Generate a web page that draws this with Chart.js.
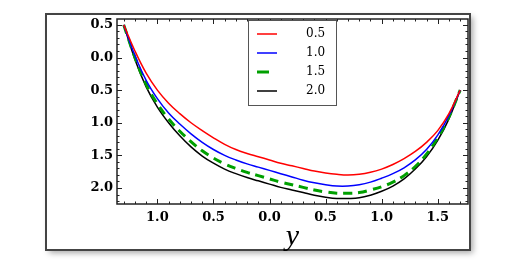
<!DOCTYPE html>
<html>
<head>
<meta charset="utf-8">
<script src="https://cdn.jsdelivr.net/npm/chart.js@4.4.1/dist/chart.umd.min.js"></script>
<style>
    body { margin: 0; background: #fff; }
</style>
</head>
<body>
<canvas id="ourChart" width="520" height="269"></canvas>
<script>
// values
const xValues = [-1.3, -1.2, -1.1, -1.0, -0.9, -0.8, -0.7, -0.6, -0.5, -0.4, -0.3, -0.2, -0.1, 0.0,
    0.1, 0.2, 0.3, 0.4, 0.5, 0.6, 0.7, 0.8, 0.9, 1.0, 1.1, 1.2, 1.3, 1.4, 1.5, 1.6, 1.7];

const curve05 = [0.50, 0.10, -0.24, -0.50, -0.70, -0.86, -1.00, -1.12, -1.23, -1.33, -1.41, -1.47, -1.52, -1.57,
    -1.62, -1.66, -1.70, -1.74, -1.77, -1.79, -1.80, -1.79, -1.76, -1.71, -1.64, -1.55, -1.44, -1.30, -1.12, -0.86, -0.50];
const curve10 = [0.50, 0.03, -0.35, -0.63, -0.85, -1.02, -1.17, -1.30, -1.41, -1.50, -1.57, -1.63, -1.68, -1.73,
    -1.78, -1.83, -1.88, -1.92, -1.95, -1.97, -1.97, -1.95, -1.91, -1.85, -1.78, -1.69, -1.57, -1.41, -1.19, -0.89, -0.50];
const curve15 = [0.50, 0.00, -0.41, -0.71, -0.94, -1.13, -1.29, -1.43, -1.54, -1.63, -1.70, -1.76, -1.81, -1.86,
    -1.91, -1.95, -1.99, -2.03, -2.06, -2.08, -2.08, -2.07, -2.03, -1.98, -1.91, -1.81, -1.67, -1.48, -1.23, -0.91, -0.50];
const curve20 = [0.50, -0.03, -0.45, -0.76, -1.00, -1.20, -1.37, -1.51, -1.62, -1.71, -1.78, -1.84, -1.89, -1.94,
    -1.99, -2.03, -2.07, -2.11, -2.14, -2.16, -2.16, -2.15, -2.11, -2.05, -1.97, -1.86, -1.71, -1.52, -1.27, -0.94, -0.50];

const seriesLabels = ['0.5', '1.0', '1.5', '2.0'];

const xTicks = [-1.0, -0.5, 0.0, 0.5, 1.0, 1.5];
const xTickLabels = ['1.0', '0.5', '0.0', '0.5', '1.0', '1.5'];
const yTicks = [0.5, 0.0, -0.5, -1.0, -1.5, -2.0];
const yTickLabels = ['0.5', '0.0', '0.5', '1.0', '1.5', '2.0'];

const serif = "'Liberation Serif', 'Times New Roman', serif";
const wideSerif = "'DejaVu Serif', serif";

function points(ys) {
    return xValues.map((x, i) => ({x: x, y: ys[i]}));
}

// white card with shadow behind the whole figure
const cardPlugin = {
    id: 'card',
    beforeDraw(chart) {
        const ctx = chart.ctx;
        ctx.save();
        ctx.shadowColor = 'rgba(0,0,0,0.35)';
        ctx.shadowBlur = 6;
        ctx.shadowOffsetX = 3;
        ctx.shadowOffsetY = 3;
        ctx.fillStyle = '#fff';
        ctx.fillRect(46, 14, 424, 236);
        ctx.restore();
        ctx.save();
        ctx.strokeStyle = '#444';
        ctx.lineWidth = 2;
        ctx.strokeRect(46, 14, 424, 236);
        ctx.restore();
    }
};

// Mathematica-like frame with inward ticks on all sides
const framePlugin = {
    id: 'frame',
    afterDatasetsDraw(chart) {
        const ctx = chart.ctx;
        const a = chart.chartArea;
        const xs = chart.scales.x, ys = chart.scales.y;
        ctx.save();
        ctx.strokeStyle = '#222';
        ctx.lineWidth = 1;
        ctx.beginPath();
        for (let k = -13; k <= 17; k++) {
            const px = Math.round(xs.getPixelForValue(k / 10)) + 0.5;
            const len = (k % 5 === 0) ? 5 : 2.5;
            ctx.moveTo(px, a.bottom); ctx.lineTo(px, a.bottom - len);
            ctx.moveTo(px, a.top); ctx.lineTo(px, a.top + len);
        }
        for (let k = -22; k <= 5; k++) {
            const py = Math.round(ys.getPixelForValue(k / 10)) + 0.5;
            const len = (k % 5 === 0) ? 5 : 2.5;
            ctx.moveTo(a.left, py); ctx.lineTo(a.left + len, py);
            ctx.moveTo(a.right, py); ctx.lineTo(a.right - len, py);
        }
        ctx.stroke();
        ctx.lineWidth = 1.5;
        ctx.strokeRect(a.left, a.top, a.right - a.left, a.bottom - a.top);
        ctx.restore();
    }
};

// boxed legend inside the plot
const boxLegend = {
    id: 'boxLegend',
    afterDraw(chart, args, opts) {
        const ctx = chart.ctx;
        const left = opts.left, top = opts.top;
        ctx.save();
        ctx.fillStyle = '#fff';
        ctx.fillRect(left, top, opts.width, opts.height);
        ctx.strokeStyle = '#555';
        ctx.lineWidth = 1;
        ctx.strokeRect(left + 0.5, top + 0.5, opts.width, opts.height);
        chart.data.datasets.forEach((ds, i) => {
            const y = top + 14 + i * 19;
            ctx.beginPath();
            ctx.strokeStyle = ds.borderColor;
            ctx.lineWidth = ds.borderWidth;
            ctx.setLineDash(ds.legendDash || []);
            ctx.moveTo(left + 9, y);
            ctx.lineTo(left + 29, y);
            ctx.stroke();
            ctx.setLineDash([]);
            ctx.fillStyle = '#000';
            ctx.font = '12px ' + wideSerif;
            ctx.textAlign = 'left';
            ctx.textBaseline = 'middle';
            ctx.fillText(ds.label, left + 58, y);
        });
        ctx.restore();
    }
};

let ourCanvas = document.getElementById('ourChart');

const chartElement = new Chart(ourCanvas, {
    type: 'line',
    data: {
        datasets: [
            {
                label: seriesLabels[0],
                data: points(curve05),
                borderColor: '#ff0000',
                borderWidth: 1.5
            },
            {
                label: seriesLabels[1],
                data: points(curve10),
                borderColor: '#0000ff',
                borderWidth: 1.5
            },
            {
                label: seriesLabels[2],
                data: points(curve15),
                borderColor: '#00a000',
                borderWidth: 3,
                borderDash: [9, 6],
                legendDash: [12, 30]
            },
            {
                label: seriesLabels[3],
                data: points(curve20),
                borderColor: '#000000',
                borderWidth: 1.5
            }
        ]
    },
    options: {
        responsive: false,
        animation: false,
        devicePixelRatio: 1,
        layout: {
            padding: {left: 47, right: 52, top: 19, bottom: 10}
        },
        elements: {
            point: {radius: 0},
            line: {tension: 0.4, fill: false}
        },
        plugins: {
            legend: {display: false},
            tooltip: {enabled: false},
            boxLegend: {left: 248, top: 20, width: 88, height: 85}
        },
        scales: {
            x: {
                type: 'linear',
                min: -1.36,
                max: 1.77,
                grid: {display: false, drawTicks: false},
                border: {display: false},
                afterFit: (scale) => { scale.height = 55; },
                afterBuildTicks: (scale) => { scale.ticks = xTicks.map(v => ({value: v})); },
                ticks: {
                    autoSkip: false,
                    maxRotation: 0,
                    padding: 6,
                    color: '#000',
                    font: {family: wideSerif, size: 13, weight: 'bold'},
                    callback: (val, i) => xTickLabels[i]
                },
                title: {
                    display: true,
                    text: 'y',
                    color: '#000',
                    font: {family: serif, size: 30, style: 'italic'},
                    padding: {top: 0, bottom: 4}
                }
            },
            y: {
                type: 'linear',
                min: -2.245,
                max: 0.59,
                grid: {display: false, drawTicks: false},
                border: {display: false},
                afterFit: (scale) => { scale.width = 70; },
                afterBuildTicks: (scale) => { scale.ticks = yTicks.map(v => ({value: v})); },
                ticks: {
                    autoSkip: false,
                    padding: 4,
                    color: '#000',
                    font: {family: wideSerif, size: 13, weight: 'bold'},
                    callback: (val, i) => yTickLabels[i]
                }
            }
        }
    },
    plugins: [cardPlugin, framePlugin, boxLegend]
});
</script>
</body>
</html>
